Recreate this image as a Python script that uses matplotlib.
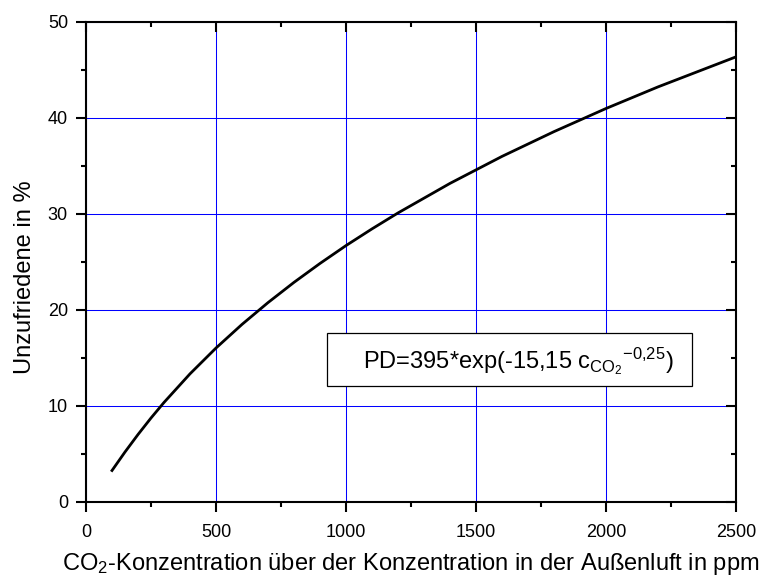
import matplotlib
matplotlib.use("Agg")
import matplotlib.pyplot as plt
from matplotlib.patches import Rectangle
from matplotlib import lines as mlines

plt.rcParams["font.family"] = ["Liberation Sans", "DejaVu Sans"]
plt.rcParams["mathtext.fontset"] = "custom"
plt.rcParams["mathtext.rm"] = "Liberation Sans"
plt.rcParams["mathtext.it"] = "Liberation Sans"
plt.rcParams["mathtext.default"] = "regular"

# CO2 concentration above outdoor air (ppm) and dissatisfied share (%)
co2_ppm = [100, 150, 200, 250, 300, 400, 500, 600, 700, 800, 900, 1000,
           1100, 1200, 1400, 1600, 1800, 2000, 2200, 2500]
unzufrieden = [3.28, 5.21, 7.03, 8.75, 10.37, 13.35, 16.04, 18.50, 20.77, 22.88,
               24.85, 26.71, 28.45, 30.11, 33.19, 36.00, 38.58, 40.99, 43.24, 46.37]

x_ticks = [0, 500, 1000, 1500, 2000, 2500]
y_ticks = [0, 10, 20, 30, 40, 50]
x_minor = [250, 750, 1250, 1750, 2250]
y_minor = [5, 15, 25, 35, 45]

fig = plt.figure(figsize=(7.61, 5.78), dpi=100)
# axes placed on whole pixels: x 86..736, y 22..502
ax = fig.add_axes([86 / 761, 76 / 578, 650 / 761, 480 / 578])

ax.plot(co2_ppm, unzufrieden, color="black", lw=2.0, zorder=3)

ax.set_xlim(0, 2500)
ax.set_ylim(0, 50)
ax.set_xticks(x_ticks)
ax.set_yticks(y_ticks)
ax.set_xticks(x_minor, minor=True)
ax.set_yticks(y_minor, minor=True)
ax.grid(True, which="major", color="#0000ff", lw=0.75)

for s in ax.spines.values():
    s.set_linewidth(1.5)
ax.tick_params(which="major", direction="out", length=7, width=1.5, labelsize=13,
               pad=6, top=True, right=True)
ax.tick_params(axis="x", which="major", pad=9)
ax.tick_params(which="minor", direction="out", length=3.5, width=1.5,
               top=True, right=True)

ax.set_xlabel("CO$_2$-Konzentration über der Konzentration in der Außenluft in ppm",
              fontsize=17, labelpad=7)
ax.set_ylabel("Unzufriedene in %", fontsize=17)
ax.yaxis.set_label_coords(-0.077, 0.4675)

# formula box
ax.add_patch(Rectangle((925, 12.1), 1406, 5.5, fc="white", ec="black", lw=0.9, zorder=4))
ax.text(1064, 14.7, r"PD=395*exp(-15,15 c$_{CO_2}$$^{-0{,}25}$)", fontsize=17,
        ha="left", va="center", zorder=5)

# top and right ticks point inward
for t in ax.xaxis.get_major_ticks() + ax.xaxis.get_minor_ticks():
    t.tick2line.set_marker(mlines.TICKDOWN)
for t in ax.yaxis.get_major_ticks() + ax.yaxis.get_minor_ticks():
    t.tick2line.set_marker(mlines.TICKLEFT)

fig.savefig("out.png", dpi=100)
